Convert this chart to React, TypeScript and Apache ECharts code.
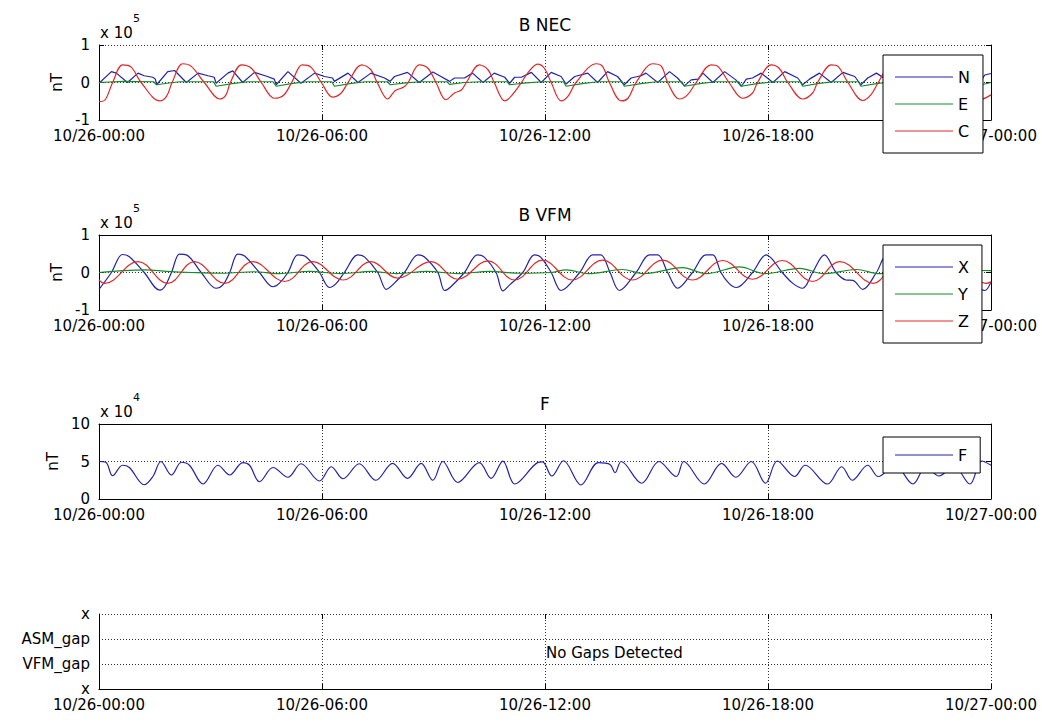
import { useEffect, useRef } from "react";
import * as echarts from "echarts";

type Pt = [number, number];

// x values are minutes after 10/26 00:00
const xTickLabels = ["10/26-00:00", "10/26-06:00", "10/26-12:00", "10/26-18:00", "10/27-00:00"];
const gapTickLabels = ["x", "VFM_gap", "ASM_gap", "x"];
const panelTitles = ["B NEC", "B VFM", "F", ""];
const panelExponents = ["5", "5", "4", ""];
const gapMessage = "No Gaps Detected";

// B NEC (x 10^5 nT)
const necN: Pt[] = [[0,-0.02],[20,0.29],[28,0.25],[46,0],[63,0.25],[73,0.18],[87,0.14],[91,0.09],[93,-0.06],[111,0.29],[122,0.32],[141,0],[160,0.25],[176,0.18],[186,0.14],[189,-0.02],[208,0.25],[216,0.31],[232,0],[251,0.27],[272,0.16],[283,0.09],[286,-0.06],[305,0.29],[326,-0.02],[348,0.25],[364,0.16],[377,0.12],[380,0.03],[402,0.25],[418,0],[439,0.25],[461,0.12],[470,0.03],[477,0.16],[498,0.27],[517,0],[539,0.28],[552,0.16],[566,0.03],[574,0.12],[590,0.12],[603,0.25],[620,0],[638,0.25],[655,0.14],[663,-0.02],[671,0.14],[682,0.14],[698,0.27],[714,0],[730,0.27],[746,0.16],[754,-0.04],[768,0.16],[789,0.25],[805,0],[821,0.29],[837,0.16],[848,-0.06],[859,0.12],[875,0.18],[883,0.25],[902,0],[921,0.29],[934,0.12],[945,-0.09],[956,0.07],[967,0.09],[975,0.25],[991,0],[1010,0.29],[1028,0.07],[1037,-0.1],[1045,0.09],[1055,0.12],[1069,0.25],[1088,0],[1107,0.29],[1128,0.12],[1136,-0.06],[1147,0.09],[1163,0.25],[1182,0],[1201,0.27],[1220,0.16],[1230,-0.06],[1241,0.12],[1255,0.25],[1278,0],[1296,0.27],[1318,0.14],[1326,-0.05],[1340,0.14],[1355,0.26],[1373,0],[1392,0.27],[1412,0.14],[1420,-0.05],[1430,0.2],[1440,0.24]];
const necE: Pt[] = [[0,0],[40,0.03],[88,0.02],[93,-0.06],[110,-0.02],[130,0.02],[185,0.02],[189,-0.1],[215,-0.03],[240,0.02],[281,0.02],[286,-0.1],[310,-0.03],[335,0.02],[376,0.02],[380,-0.1],[405,-0.03],[430,0.02],[466,0.02],[470,-0.06],[495,-0.01],[520,0.02],[562,0.02],[566,-0.05],[590,0],[615,0.02],[659,0.02],[663,-0.06],[690,-0.01],[715,0.02],[750,0.02],[754,-0.1],[780,-0.03],[805,0.02],[844,0.02],[848,-0.1],[875,-0.03],[900,0.02],[941,0.02],[945,-0.1],[970,-0.03],[995,0.02],[1033,0.02],[1037,-0.1],[1062,-0.03],[1088,0.02],[1132,0.02],[1136,-0.1],[1160,-0.03],[1185,0.02],[1226,0.02],[1230,-0.1],[1255,-0.03],[1280,0.02],[1322,0.02],[1326,-0.08],[1350,-0.02],[1373,0.02],[1416,0.02],[1420,-0.08],[1440,0]];
const necC: Pt[] = [[0,-0.51],[10,-0.46],[22,0],[38,0.47],[52,0.41],[68,0],[98,-0.49],[109,-0.37],[118,0],[135,0.5],[149,0.43],[170,0],[195,-0.44],[205,-0.33],[212,0],[230,0.47],[246,0.38],[262,0],[283,-0.42],[298,-0.34],[311,0],[328,0.47],[342,0.41],[359,0],[377,-0.39],[391,-0.28],[402,0],[424,0.47],[439,0.34],[449,0],[466,-0.44],[478,-0.22],[492,-0.12],[499,0],[517,0.47],[531,0.38],[544,0],[560,-0.46],[574,-0.28],[585,-0.2],[593,0],[614,0.47],[628,0.34],[638,0],[655,-0.49],[665,-0.37],[682,0],[692,0.25],[708,0.49],[719,0.38],[730,0],[746,-0.49],[757,-0.37],[770,0],[803,0.5],[813,0.43],[824,0],[843,-0.49],[854,-0.42],[867,0],[894,0.5],[908,0.43],[918,0],[937,-0.44],[950,-0.33],[964,0],[988,0.47],[999,0.43],[1017,0],[1039,-0.42],[1055,-0.28],[1063,0],[1085,0.47],[1098,0.38],[1112,0],[1136,-0.44],[1152,-0.28],[1160,0],[1182,0.47],[1193,0.43],[1209,0],[1233,-0.48],[1246,-0.33],[1258,0],[1278,0.47],[1302,0],[1326,-0.45],[1340,-0.3],[1352,0],[1373,0.47],[1398,0],[1425,-0.44],[1440,-0.33]];

// B VFM (x 10^5 nT)
const vfmX: Pt[] = [[0,-0.45],[20,0],[38,0.48],[49,0.42],[73,0],[98,-0.47],[106,-0.38],[117,0],[130,0.49],[141,0.47],[165,0],[189,-0.42],[200,-0.33],[211,0],[224,0.49],[235,0.44],[259,0],[281,-0.38],[291,-0.29],[305,0],[321,0.47],[334,0.42],[356,0],[372,-0.4],[383,-0.29],[396,0],[418,0.47],[429,0.41],[450,0],[464,-0.45],[474,-0.33],[493,0],[515,0.47],[525,0.42],[547,0],[558,-0.48],[568,-0.38],[590,0],[611,0.47],[622,0.41],[641,0],[652,-0.49],[663,-0.33],[684,0],[703,0.47],[713,0.41],[730,0],[746,-0.48],[776,0],[797,0.47],[810,0.47],[825,0],[840,-0.48],[867,0],[889,0.47],[902,0.47],[918,0],[934,-0.42],[958,0],[980,0.47],[991,0.47],[1004,0],[1017,-0.29],[1029,-0.4],[1055,0],[1077,0.47],[1104,-0.02],[1120,-0.29],[1136,-0.42],[1152,0],[1171,0.47],[1190,0],[1206,-0.2],[1217,-0.21],[1233,-0.45],[1255,0],[1272,0.47],[1300,0],[1325,-0.45],[1345,0],[1365,0.47],[1395,0],[1430,-0.48],[1440,-0.25]];
const vfmY: Pt[] = [[0,0],[40,0.05],[75,0.07],[110,0.03],[150,0],[200,-0.02],[250,0.02],[290,-0.03],[340,0.03],[390,-0.03],[440,0.03],[480,-0.03],[530,0.03],[580,-0.03],[630,0.03],[680,-0.02],[730,0],[754,0.07],[790,-0.03],[845,0.08],[880,-0.03],[942,0.13],[980,-0.03],[1034,0.15],[1075,-0.03],[1131,0.11],[1170,-0.03],[1223,0.08],[1260,-0.03],[1310,0.08],[1360,-0.02],[1400,0.06],[1440,0.05]];
const vfmZ: Pt[] = [[0,-0.2],[9,-0.29],[63,0.29],[111,-0.29],[154,0.29],[203,-0.29],[248,0.29],[300,-0.24],[345,0.29],[394,-0.2],[439,0.29],[482,-0.15],[536,0.29],[579,-0.18],[628,0.31],[671,-0.2],[716,0.33],[764,-0.2],[813,0.33],[861,-0.2],[910,0.33],[958,-0.2],[1007,0.32],[1055,-0.18],[1103,0.32],[1152,-0.24],[1196,0.29],[1250,-0.29],[1290,0.29],[1340,-0.27],[1385,0.29],[1432,-0.29],[1440,-0.25]];

// F (x 10^4 nT)
const fTotal: Pt[] = [[0,5.0],[11,4.9],[22,3.1],[38,4.5],[49,4.2],[73,1.9],[87,3.0],[100,5.0],[117,3.2],[133,4.9],[146,4.5],[168,2.0],[192,4.5],[211,3.2],[232,4.85],[243,4.5],[259,2.3],[281,4.2],[305,2.9],[326,4.7],[356,2.4],[375,4.3],[394,2.7],[420,4.7],[447,2.5],[474,4.75],[498,2.75],[520,4.75],[539,2.5],[555,5.0],[579,2.2],[614,4.85],[633,2.75],[652,5.05],[671,2.0],[708,4.85],[716,4.95],[731,3.07],[750,5.1],[778,1.87],[806,4.85],[825,4.6],[833,3.5],[843,5.0],[876,2.1],[904,5.0],[932,3.0],[944,5.0],[977,2.0],[1005,4.75],[1028,2.9],[1053,5.0],[1076,2.1],[1095,5.07],[1123,3.0],[1140,4.5],[1176,2.0],[1199,4.3],[1216,2.5],[1241,4.5],[1258,3.0],[1285,4.5],[1314,2.0],[1335,4.3],[1356,3.07],[1380,4.4],[1406,2.0],[1425,5.07],[1440,4.5]];

const FONT = "'DejaVu Sans', 'Liberation Sans', sans-serif";
const BLUE = "#2323a6";
const GREEN = "#168a26";
const RED = "#e02828";

const PLOT_LEFT = 99;
const PLOT_WIDTH = 892;
const PLOT_HEIGHT = 75;
const TICK_FONT = 15;

const panels = [
  { top: 45, yMin: -1, yMax: 1, yInt: 1, topLine: false, rightLine: true, legendTop: 55, legend: ["N", "E", "C"] },
  { top: 235, yMin: -1, yMax: 1, yInt: 1, topLine: true, rightLine: true, legendTop: 245, legend: ["X", "Y", "Z"] },
  { top: 424, yMin: 0, yMax: 10, yInt: 5, topLine: true, rightLine: true, legendTop: 437, legend: ["F"] },
  { top: 614, yMin: 0, yMax: 3, yInt: 1, topLine: false, rightLine: false, legendTop: 0, legend: [] as string[] },
];

const seriesDefs = [
  { name: "N", panel: 0, data: necN, color: BLUE, smooth: false as number | boolean },
  { name: "E", panel: 0, data: necE, color: GREEN, smooth: false as number | boolean },
  { name: "C", panel: 0, data: necC, color: RED, smooth: 0.35 },
  { name: "X", panel: 1, data: vfmX, color: BLUE, smooth: 0.35 },
  { name: "Y", panel: 1, data: vfmY, color: GREEN, smooth: 0.35 },
  { name: "Z", panel: 1, data: vfmZ, color: RED, smooth: 0.4 },
  { name: "F", panel: 2, data: fTotal, color: BLUE, smooth: 0.35 },
];

export default function App() {
  const ref = useRef<HTMLDivElement>(null);

  useEffect(() => {
    if (!ref.current) return;
    const chart = echarts.init(ref.current, null, { renderer: "svg" });
    const dotted = { show: true, lineStyle: { color: "#333", type: [1, 2] as any, width: 1 } };
    const black = { color: "#000", width: 1 };

    const grid = panels.map((p) => ({
      left: PLOT_LEFT, top: p.top, width: PLOT_WIDTH, height: PLOT_HEIGHT,
      show: false, containLabel: false, outerBoundsMode: "none",
    }));

    const xAxis: any[] = [];
    const yAxis: any[] = [];
    panels.forEach((p, i) => {
      xAxis.push({
        gridIndex: i, type: "value", position: "bottom", min: 0, max: 1440, interval: 360,
        axisLine: { show: true, onZero: false, lineStyle: black },
        axisTick: { show: true, inside: true, length: 5, lineStyle: black },
        axisLabel: {
          show: true, color: "#000", fontSize: TICK_FONT, fontFamily: FONT, margin: 8,
          showMinLabel: true, showMaxLabel: true, hideOverlap: false,
          formatter: (v: number) => xTickLabels[Math.round(v / 360)] ?? "",
        },
        splitLine: dotted,
      });
      xAxis.push({
        gridIndex: i, type: "value", position: "top", min: 0, max: 1440, interval: 360,
        axisLine: { show: p.topLine, onZero: false, lineStyle: black },
        axisTick: { show: true, inside: true, length: 5, lineStyle: black },
        axisLabel: { show: false },
        splitLine: { show: false },
      });
      yAxis.push({
        gridIndex: i, type: "value", position: "left", min: p.yMin, max: p.yMax, interval: p.yInt,
        axisLine: { show: true, onZero: false, lineStyle: black },
        axisTick: { show: i < 3, inside: true, length: 5, lineStyle: black },
        axisLabel: {
          show: true, color: "#000", fontSize: TICK_FONT, fontFamily: FONT, margin: 9,
          showMinLabel: true, showMaxLabel: true,
          formatter: i === 3 ? (v: number) => gapTickLabels[Math.round(v)] ?? "" : (v: number) => String(v),
        },
        splitLine: dotted,
        name: i < 3 ? "nT" : "",
        nameLocation: "middle", nameGap: 34, nameRotate: 90,
        nameTextStyle: { color: "#000", fontSize: TICK_FONT, fontFamily: FONT },
      });
      yAxis.push({
        gridIndex: i, type: "value", position: "right", min: p.yMin, max: p.yMax, interval: p.yInt,
        axisLine: { show: p.rightLine, onZero: false, lineStyle: black },
        axisTick: { show: i < 3, inside: true, length: 5, lineStyle: black },
        axisLabel: { show: false },
        splitLine: { show: false },
      });
    });

    const series = seriesDefs.map((s) => ({
      name: s.name, type: "line", data: s.data,
      xAxisIndex: s.panel * 2, yAxisIndex: s.panel * 2,
      showSymbol: false, symbol: "none", smooth: s.smooth, clip: true,
      lineStyle: { color: s.color, width: 1.2 }, itemStyle: { color: s.color },
      emphasis: { disabled: true },
    }));

    const legend = panels.filter((p) => p.legend.length > 0).map((p) => ({
      data: p.legend, orient: "vertical", left: 883, top: p.legendTop,
      icon: "rect", itemWidth: 58, itemHeight: 1, itemGap: 9,
      padding: p.legend.length > 1 ? [13, 13, 13, 12] : [9, 13, 9, 12],
      backgroundColor: "#fff", borderColor: "#000", borderWidth: 1, borderRadius: 0,
      selectedMode: false, z: 10,
      textStyle: { color: "#000", fontSize: 16, fontFamily: FONT, lineHeight: 18 },
    }));

    const graphic: any[] = [];
    panels.forEach((p, i) => {
      if (panelTitles[i]) {
        graphic.push({
          type: "text", x: PLOT_LEFT + PLOT_WIDTH / 2, y: p.top - 20, z: 20,
          style: { text: panelTitles[i], fontSize: 17, fontFamily: FONT, fill: "#000", align: "center", verticalAlign: "middle" },
        });
      }
      if (panelExponents[i]) {
        graphic.push({
          type: "text", x: 100, y: p.top - 12, z: 20,
          style: { text: "x 10", fontSize: TICK_FONT, fontFamily: FONT, fill: "#000", align: "left", verticalAlign: "middle" },
        });
        graphic.push({
          type: "text", x: 133, y: p.top - 27, z: 20,
          style: { text: panelExponents[i], fontSize: 11, fontFamily: FONT, fill: "#000", align: "left", verticalAlign: "middle" },
        });
      }
    });
    graphic.push({
      type: "text", x: 546, y: panels[3].top + 39, z: 20,
      style: { text: gapMessage, fontSize: TICK_FONT, fontFamily: FONT, fill: "#000", align: "left", verticalAlign: "middle" },
    });

    chart.setOption({
      animation: false,
      backgroundColor: "#fff",
      textStyle: { fontFamily: FONT },
      grid, xAxis, yAxis, series, legend, graphic,
    });
    return () => chart.dispose();
  }, []);

  return (
    <div
      ref={ref}
      style={{ position: "absolute", left: 0, top: 0, width: 1042, height: 722, background: "#fff" }}
    />
  );
}
